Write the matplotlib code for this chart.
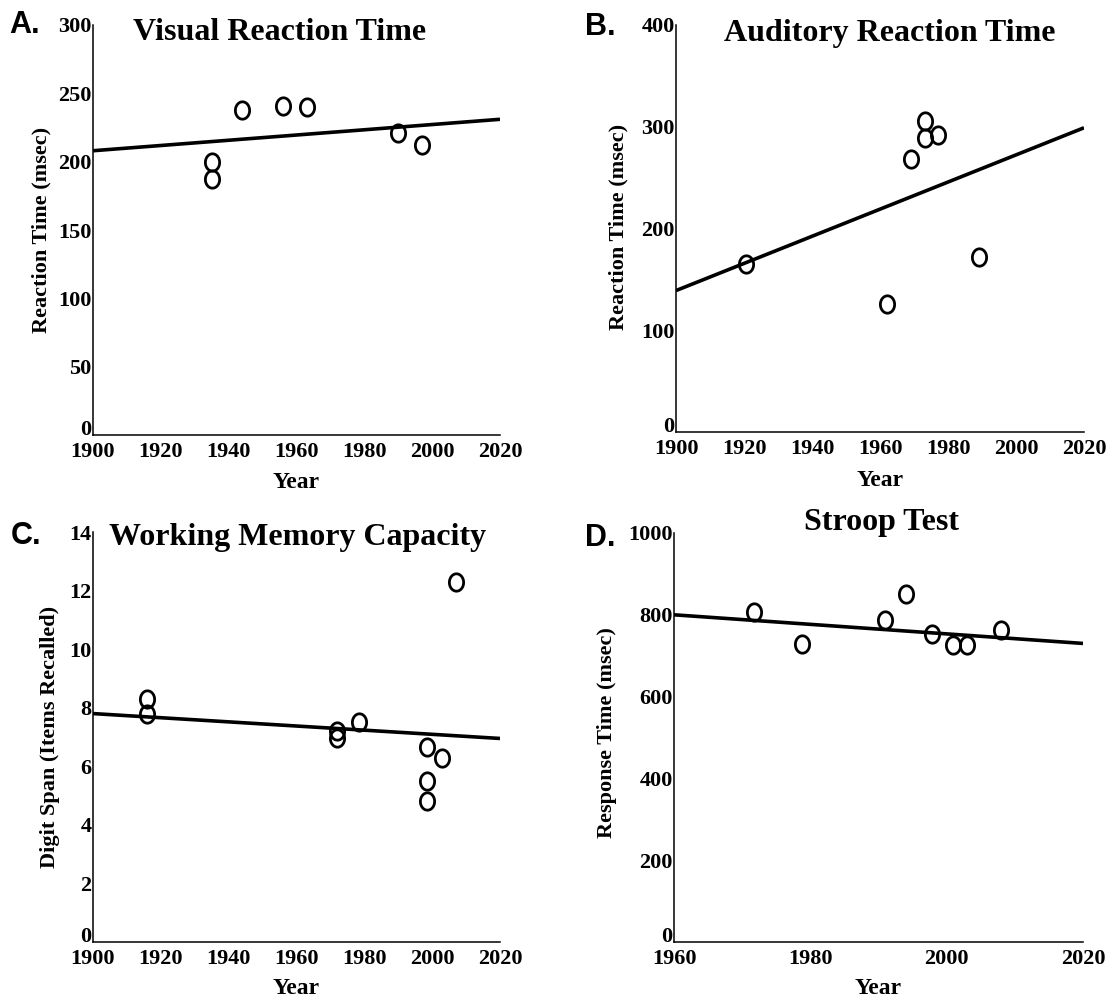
import matplotlib
matplotlib.use("Agg")
import matplotlib.pyplot as plt
import numpy as np
from matplotlib.path import Path

# ---------------- data ----------------
visual_years = [1935, 1935, 1944, 1956, 1963, 1990, 1997]
visual_rt = [200, 187, 238, 241, 240, 221, 212]
visual_trend_years = [1900, 2020]
visual_trend = [208, 231]

auditory_years = [1920.5, 1962, 1969, 1973.3, 1973.3, 1977, 1989]
auditory_rt = [165, 126, 268, 306, 289, 292, 172]
auditory_trend_years = [1900, 2020]
auditory_trend = [139, 299]

wm_years = [1916, 1916, 1972, 1972, 1978.5, 1998.5, 2003, 1998.5, 1998.5, 2007]
wm_span = [8.3, 7.8, 7.2, 6.95, 7.5, 6.65, 6.3, 5.5, 4.8, 12.3]
wm_trend_years = [1900, 2020]
wm_trend = [7.8, 6.95]

stroop_years = [1971.7, 1978.8, 1991, 1994, 1997.8, 2001, 2003, 2008]
stroop_rt = [807, 729, 788, 851, 754, 727, 727, 763]
stroop_trend_years = [1960, 2020]
stroop_trend = [800, 730]

# ---------------- style ----------------
SERIF = "Liberation Serif"
SANS = "Liberation Sans"

theta = np.linspace(0, 2 * np.pi, 60)
oval = Path(np.column_stack([0.82 * np.cos(theta), np.sin(theta)]), closed=True)

fig = plt.figure(figsize=(11.09, 9.97), dpi=100)
W, H = 1109, 997

def rect(x0, x1, ytop, ybot):
    return [x0 / W, 1 - ybot / H, (x1 - x0) / W, (ybot - ytop) / H]

panels = [
    dict(rect=rect(93, 500, 25, 435), x=visual_years, y=visual_rt,
         tx=visual_trend_years, ty=visual_trend, xlim=(1900, 2020), ylim=(0, 300),
         xticks=[1900, 1920, 1940, 1960, 1980, 2000, 2020], yticks=[0, 50, 100, 150, 200, 250, 300],
         title="Visual Reaction Time", ylabel="Reaction Time (msec)", letter="A.",
         title_xy=(280, 33), letter_xy=(9, 25), ylab_xy=(41, 230), xlab_y=482),
    dict(rect=rect(676, 1084, 25, 432), x=auditory_years, y=auditory_rt,
         tx=auditory_trend_years, ty=auditory_trend, xlim=(1900, 2020), ylim=(0, 400),
         xticks=[1900, 1920, 1940, 1960, 1980, 2000, 2020], yticks=[0, 100, 200, 300, 400],
         title="Auditory Reaction Time", ylabel="Reaction Time (msec)", letter="B.",
         title_xy=(890, 34), letter_xy=(585, 27), ylab_xy=(618, 227), xlab_y=481),
    dict(rect=rect(93, 500, 532, 942), x=wm_years, y=wm_span,
         tx=wm_trend_years, ty=wm_trend, xlim=(1900, 2020), ylim=(0, 14),
         xticks=[1900, 1920, 1940, 1960, 1980, 2000, 2020], yticks=[0, 2, 4, 6, 8, 10, 12, 14],
         title="Working Memory Capacity", ylabel="Digit Span (Items Recalled)", letter="C.",
         title_xy=(298, 537), letter_xy=(11, 536), ylab_xy=(50, 737), xlab_y=988),
    dict(rect=rect(674, 1083, 533, 942), x=stroop_years, y=stroop_rt,
         tx=stroop_trend_years, ty=stroop_trend, xlim=(1960, 2020), ylim=(0, 1000),
         xticks=[1960, 1980, 2000, 2020], yticks=[0, 200, 400, 600, 800, 1000],
         title="Stroop Test", ylabel="Response Time (msec)", letter="D.",
         title_xy=(881, 522), letter_xy=(585, 538), ylab_xy=(607, 733), xlab_y=988),
]

for p in panels:
    ax = fig.add_axes(p["rect"])
    ax.plot(p["tx"], p["ty"], color="black", lw=2.6, solid_capstyle="butt", zorder=2)
    ax.plot(p["x"], p["y"], linestyle="none", marker=oval, markersize=12.5,
            markerfacecolor="none", markeredgecolor="black", markeredgewidth=2.0, zorder=3)
    ax.set_xlim(*p["xlim"])
    ax.set_ylim(*p["ylim"])
    ax.set_xticks(p["xticks"])
    ax.set_yticks(p["yticks"])
    for s in ("top", "right"):
        ax.spines[s].set_visible(False)
    for s in ("left", "bottom"):
        ax.spines[s].set_linewidth(1.1)
        ax.spines[s].set_color("black")
    ax.tick_params(axis="y", length=0, pad=1)
    ax.tick_params(axis="x", length=0, pad=5)
    for lab in ax.get_xticklabels() + ax.get_yticklabels():
        lab.set_fontfamily(SERIF)
        lab.set_fontweight("bold")
        lab.set_fontsize(16)
    ylabs = ax.get_yticklabels()
    ylabs[0].set_verticalalignment("baseline")
    ax.patch.set_visible(False)

    tx, ty = p["title_xy"]
    fig.text(tx / W, 1 - ty / H, p["title"], ha="center", va="center",
             fontfamily=SERIF, fontweight="bold", fontsize=23)
    lx, ly = p["letter_xy"]
    fig.text(lx / W, 1 - ly / H, p["letter"], ha="left", va="center",
             fontfamily=SANS, fontweight="bold", fontsize=22)
    yx, yy = p["ylab_xy"]
    fig.text(yx / W, 1 - yy / H, p["ylabel"], ha="center", va="center", rotation=90,
             fontfamily=SERIF, fontweight="bold", fontsize=16)
    cx = (p["rect"][0] + p["rect"][2] / 2)
    fig.text(cx, 1 - p["xlab_y"] / H, "Year", ha="center", va="center",
             fontfamily=SERIF, fontweight="bold", fontsize=17)

fig.savefig("out.png", dpi=100, facecolor="white")
